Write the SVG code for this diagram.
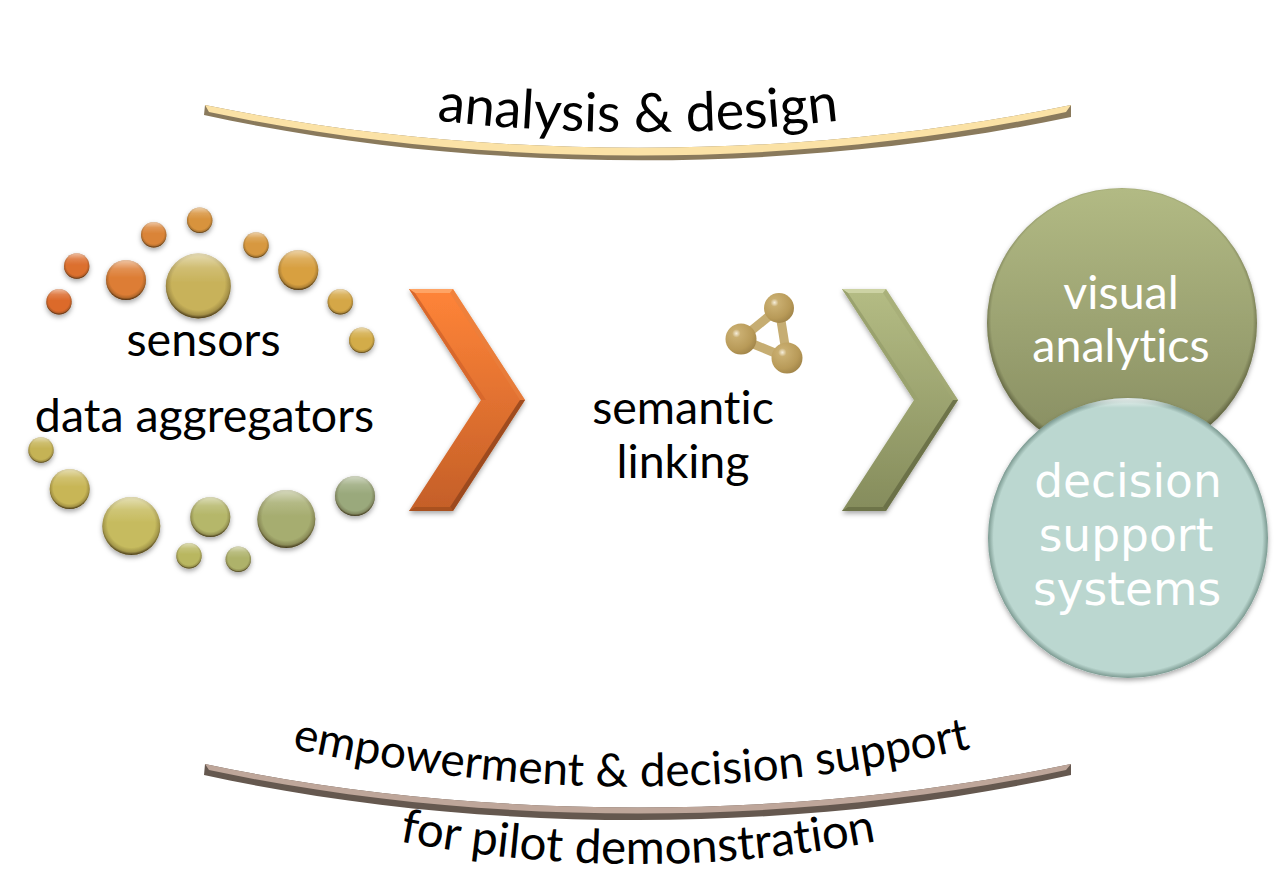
<svg xmlns="http://www.w3.org/2000/svg" xmlns:xlink="http://www.w3.org/1999/xlink" width="1277" height="879" viewBox="0 0 1277 879">
<style>
text{font-family:"Lato","Open Sans","Liberation Sans",sans-serif;fill:#000;text-anchor:middle;font-variant-ligatures:none}
.l{font-size:46.500px}
.t{font-size:54px}
.e{font-size:46px}
.f{font-size:47.500px}
.w{fill:#fff;font-size:46.500px}
.k{fill:#fff;font-size:45.500px;font-family:"DejaVu Sans","Noto Sans",sans-serif}
.rim{fill:url(#rim)}
.hi{fill:url(#hi)}
</style>
<defs>
<radialGradient id="rim" cx="50%" cy="46%" r="54%"><stop offset=".76" stop-color="#3a2a10" stop-opacity="0"/><stop offset=".9" stop-color="#3a2a10" stop-opacity=".25"/><stop offset="1" stop-color="#2a1c08" stop-opacity=".85"/></radialGradient>
<linearGradient id="hi" x1="0" y1="0" x2="0" y2="1"><stop offset="0" stop-color="#fff" stop-opacity=".55"/><stop offset=".22" stop-color="#fff" stop-opacity=".15"/><stop offset=".45" stop-color="#fff" stop-opacity="0"/></linearGradient>
<linearGradient id="or" x1="0" y1="0" x2="0" y2="1"><stop offset="0" stop-color="#ff8438"/><stop offset="1" stop-color="#c45f28"/></linearGradient>
<linearGradient id="gr" x1="0" y1="0" x2="0" y2="1"><stop offset="0" stop-color="#b4bc84"/><stop offset="1" stop-color="#858c5c"/></linearGradient>
<linearGradient id="va" x1="0" y1="0" x2="0" y2="1"><stop offset="0" stop-color="#b2ba84"/><stop offset="1" stop-color="#868c60"/></linearGradient>
<radialGradient id="rimV" cx="50%" cy="49%" r="51%"><stop offset=".95" stop-color="#3a3a20" stop-opacity="0"/><stop offset="1" stop-color="#3a3a20" stop-opacity=".6"/></radialGradient>
<radialGradient id="rimD" cx="50%" cy="50%" r="50%"><stop offset=".96" stop-color="#3a5a50" stop-opacity="0"/><stop offset="1" stop-color="#3a5a50" stop-opacity=".5"/></radialGradient>
<linearGradient id="hiD" x1="0" y1="0" x2="0" y2="1"><stop offset="0" stop-color="#fff" stop-opacity=".8"/><stop offset=".035" stop-color="#fff" stop-opacity="0"/></linearGradient>
<radialGradient id="mol" cx="35%" cy="32%" r="75%"><stop offset="0" stop-color="#f6eedb"/><stop offset=".18" stop-color="#c9ae70"/><stop offset=".7" stop-color="#b89a58"/><stop offset="1" stop-color="#9f8348"/></radialGradient>
<filter id="sh" x="-20%" y="-20%" width="140%" height="140%"><feDropShadow dx="0" dy="2.500" stdDeviation="2.500" flood-color="#000" flood-opacity=".35"/></filter>
<path id="p1" d="M408,117 Q638,147 868,117"/>
<path id="p2" d="M273,744 Q632,829 990,744"/>
<path id="p3" d="M383,838 Q638,890 893,838"/>
</defs>

<g id="arc-top">
<path d="M205,105 C480,162 796,162 1071,105 L1071,117 C796,175 480,175 204,115Z" fill="#8a7a5c"/>
<path d="M205,105 C480,162 796,162 1071,105 L1066,112 C796,170 480,170 209,112Z" fill="#fbe2a6"/>
<text class="t"><textPath href="#p1" xlink:href="#p1" startOffset="50%">analysis &amp; design</textPath></text>
</g>
<g id="arc-bottom">
<path d="M205,764 C480,822 796,822 1071,764 L1071,775 C796,835 480,835 204,775Z" fill="#65584f"/>
<path d="M205,764 C480,822 796,822 1071,764 L1066,770 C796,828 480,828 209,770Z" fill="#bea69a"/>
<text class="e"><textPath href="#p2" xlink:href="#p2" startOffset="50%">empowerment &amp; decision support</textPath></text>
<text class="f"><textPath href="#p3" xlink:href="#p3" startOffset="50%">for pilot demonstration</textPath></text>
</g>

<g id="sensors">
<g filter="url(#sh)">
<circle cx="59" cy="301.7" r="12.7" fill="#dc6a2c"/><circle class="rim" cx="59" cy="301.7" r="12.7"/><circle class="hi" cx="59" cy="301.7" r="12.7"/>
<circle cx="76.7" cy="266" r="12.7" fill="#dc6f2f"/><circle class="rim" cx="76.7" cy="266" r="12.7"/><circle class="hi" cx="76.7" cy="266" r="12.7"/>
<circle cx="126" cy="280" r="20" fill="#dd7d34"/><circle class="rim" cx="126" cy="280" r="20"/><circle class="hi" cx="126" cy="280" r="20"/>
<circle cx="153.7" cy="234.7" r="12.7" fill="#da8438"/><circle class="rim" cx="153.7" cy="234.7" r="12.7"/><circle class="hi" cx="153.7" cy="234.7" r="12.7"/>
<circle cx="199.7" cy="220.3" r="12.7" fill="#d8933d"/><circle class="rim" cx="199.7" cy="220.3" r="12.7"/><circle class="hi" cx="199.7" cy="220.3" r="12.7"/>
<circle cx="198.3" cy="286" r="32.500" fill="#c8b25a"/><circle class="rim" cx="198.3" cy="286" r="32.500"/><circle class="hi" cx="198.3" cy="286" r="32.500"/>
<circle cx="256" cy="245" r="12.7" fill="#d7983f"/><circle class="rim" cx="256" cy="245" r="12.7"/><circle class="hi" cx="256" cy="245" r="12.7"/>
<circle cx="298.3" cy="270" r="20" fill="#d8a041"/><circle class="rim" cx="298.3" cy="270" r="20"/><circle class="hi" cx="298.3" cy="270" r="20"/>
<circle cx="340.3" cy="301.7" r="12.7" fill="#d5a746"/><circle class="rim" cx="340.3" cy="301.7" r="12.7"/><circle class="hi" cx="340.3" cy="301.7" r="12.7"/>
<circle cx="361.7" cy="340.3" r="12.7" fill="#d3ac48"/><circle class="rim" cx="361.7" cy="340.3" r="12.7"/><circle class="hi" cx="361.7" cy="340.3" r="12.7"/>
</g>
<text class="l" x="203.500" y="356">sensors</text>
</g>

<g id="data-aggregators">
<g filter="url(#sh)">
<circle cx="41" cy="450" r="12.7" fill="#c5b355"/><circle class="rim" cx="41" cy="450" r="12.7"/><circle class="hi" cx="41" cy="450" r="12.7"/>
<circle cx="69.7" cy="489" r="20" fill="#c8b656"/><circle class="rim" cx="69.7" cy="489" r="20"/><circle class="hi" cx="69.7" cy="489" r="20"/>
<circle cx="131.3" cy="526" r="29" fill="#c6bb5e"/><circle class="rim" cx="131.3" cy="526" r="29"/><circle class="hi" cx="131.3" cy="526" r="29"/>
<circle cx="210.3" cy="517" r="20" fill="#b5b76a"/><circle class="rim" cx="210.3" cy="517" r="20"/><circle class="hi" cx="210.3" cy="517" r="20"/>
<circle cx="286.3" cy="519" r="29" fill="#a6ad70"/><circle class="rim" cx="286.3" cy="519" r="29"/><circle class="hi" cx="286.3" cy="519" r="29"/>
<circle cx="355" cy="496" r="20" fill="#9aa97c"/><circle class="rim" cx="355" cy="496" r="20"/><circle class="hi" cx="355" cy="496" r="20"/>
<circle cx="189" cy="555.7" r="12.7" fill="#b9b760"/><circle class="rim" cx="189" cy="555.7" r="12.7"/><circle class="hi" cx="189" cy="555.7" r="12.7"/>
<circle cx="238.3" cy="559.3" r="12.7" fill="#aeb26a"/><circle class="rim" cx="238.3" cy="559.3" r="12.7"/><circle class="hi" cx="238.3" cy="559.3" r="12.7"/>
</g>
<text class="l" x="204.500" y="432">data aggregators</text>
</g>

<g id="chevron-orange">
<path d="M409,289H453L525,400L453,511H409L481,400Z" fill="url(#or)" filter="url(#sh)"/>
<path d="M409,289H453L450,293H415Z" fill="#ffa465"/>
<path d="M453,289L525,400H520L450,293Z" fill="#e88040" opacity=".6"/>
<path d="M525,400L453,511L450,507L520,400Z" fill="#94451c" opacity=".85"/>
<path d="M453,511H409L415,507H450Z" fill="#a9511f"/>
<path d="M409,289L481,400H486L415,293Z" fill="#d8682c"/>
</g>

<g id="semantic-linking">
<g stroke="#c6ad72" stroke-width="9">
<line x1="779" y1="308" x2="741" y2="339"/><line x1="779" y1="308" x2="787" y2="358"/><line x1="741" y1="339" x2="787" y2="358"/>
</g>
<circle cx="779" cy="308" r="15" fill="url(#mol)"/><circle cx="741" cy="339" r="15.500" fill="url(#mol)"/><circle cx="787" cy="358" r="15.500" fill="url(#mol)"/>
<text class="l" x="683" y="424">semantic</text>
<text class="l" x="683" y="478">linking</text>
</g>

<g id="chevron-green">
<path d="M842,289H886L958,400L886,511H842L914,400Z" fill="url(#gr)" filter="url(#sh)"/>
<path d="M842,289H886L883,293H848Z" fill="#cdd3a4"/>
<path d="M886,289L958,400H953L883,293Z" fill="#a3aa74" opacity=".6"/>
<path d="M958,400L886,511L883,507L953,400Z" fill="#666c44" opacity=".85"/>
<path d="M886,511H842L848,507H883Z" fill="#6e7449"/>
<path d="M842,289L914,400H919L848,293Z" fill="#9aa26e"/>
</g>

<g id="visual-analytics">
<circle cx="1122" cy="323" r="135" fill="url(#va)" filter="url(#sh)"/>
<circle cx="1122" cy="323" r="135" fill="url(#rimV)"/>
<text class="w" x="1121" y="309">visual</text>
<text class="w" x="1121" y="362">analytics</text>
</g>

<g id="decision-support-systems">
<circle cx="1128" cy="538" r="140" fill="#bbd7d0" filter="url(#sh)"/>
<circle cx="1128" cy="538" r="140" fill="url(#rimD)"/>
<circle cx="1128" cy="538" r="140" fill="url(#hiD)"/>
<text class="k" x="1128" y="497">decision</text>
<text class="k" x="1126" y="551">support</text>
<text class="k" x="1127" y="605">systems</text>
</g>
</svg>
